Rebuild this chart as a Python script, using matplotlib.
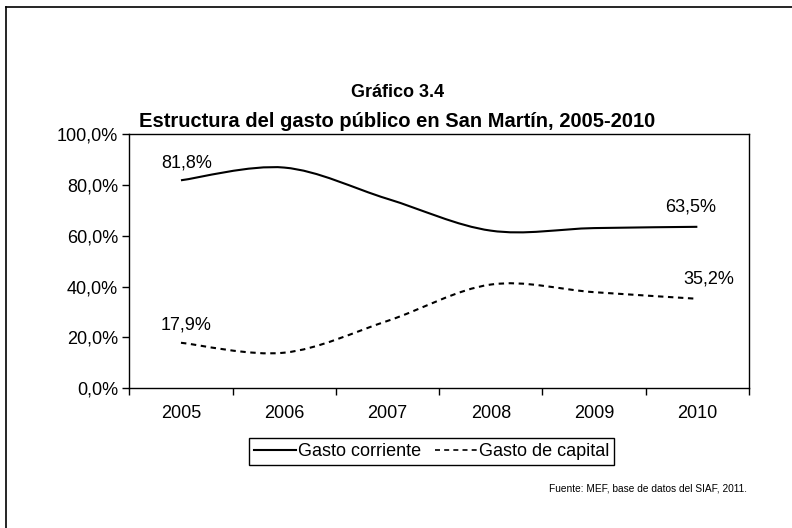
import numpy as np
import matplotlib
matplotlib.use("Agg")
from matplotlib import pyplot as plt
from matplotlib.path import Path
from matplotlib.patches import PathPatch
from matplotlib.lines import Line2D

plt.rcParams['font.family'] = ['Liberation Sans', 'DejaVu Sans']

years = ["2005", "2006", "2007", "2008", "2009", "2010"]
gasto_corriente = [81.8, 86.8, 74.5, 62.0, 63.0, 63.5]
gasto_capital = [17.9, 14.0, 26.5, 40.8, 37.8, 35.2]
labels_corriente = {0: "81,8%", 5: "63,5%"}
labels_capital = {0: "17,9%", 5: "35,2%"}


def smooth_path(xs, ys):
    # bezier segments through the data points, like Excel's smoothed line
    pts = np.column_stack([xs, ys])
    n = len(pts)
    verts = [pts[0]]
    codes = [Path.MOVETO]
    for i in range(n - 1):
        p0 = pts[max(i - 1, 0)]
        p1 = pts[i]
        p2 = pts[i + 1]
        p3 = pts[min(i + 2, n - 1)]
        c1 = p1 + (p2 - p0) / 6.0
        c2 = p2 - (p3 - p1) / 6.0
        verts += [c1, c2, p2]
        codes += [Path.CURVE4] * 3
    return Path(verts, codes)


fig = plt.figure(figsize=(7.92, 5.28), dpi=100)
ax = fig.add_axes([0.1633, 0.2646, 0.7824, 0.4816])

x = np.arange(len(years))
dash = (0, (2.6, 2.2))
ax.add_patch(PathPatch(smooth_path(x, np.array(gasto_corriente) / 100),
                       fill=False, lw=1.5, color="black"))
ax.add_patch(PathPatch(smooth_path(x, np.array(gasto_capital) / 100),
                       fill=False, lw=1.5, color="black", linestyle=dash))

ax.set_xlim(-0.5, len(years) - 0.5)
ax.set_ylim(0, 1.0)
ax.set_yticks(np.arange(0, 1.01, 0.2))
ax.set_yticklabels([("%.1f%%" % (v * 100)).replace(".", ",") for v in np.arange(0, 1.01, 0.2)])
ax.set_xticks(x)
ax.set_xticklabels(years)
ax.set_xticks(np.arange(-0.5, len(years), 1.0), minor=True)
ax.tick_params(axis="x", which="major", length=0, pad=12, labelsize=13)
ax.tick_params(axis="x", which="minor", length=5, width=1, direction="out")
ax.tick_params(axis="y", length=5, width=1, direction="out", pad=3, labelsize=13)
for s in ax.spines.values():
    s.set_linewidth(1.0)

for i, t in labels_corriente.items():
    ax.annotate(t, (x[i], gasto_corriente[i] / 100), xytext=(4 if i == 0 else -5, 12.5 if i == 0 else 14),
                textcoords="offset points", ha="center", va="center", fontsize=13)
for i, t in labels_capital.items():
    ax.annotate(t, (x[i], gasto_capital[i] / 100), xytext=(4 if i == 0 else 8, 12.8 if i == 0 else 14),
                textcoords="offset points", ha="center", va="center", fontsize=13)

handles = [Line2D([], [], color="black", lw=1.5),
           Line2D([], [], color="black", lw=1.2, linestyle=(0, (3, 2.5)))]
leg = fig.legend(handles, ["Gasto corriente", "Gasto de capital"], ncol=2,
                 loc="center", bbox_to_anchor=(0.545, 0.145), fontsize=13,
                 frameon=True, fancybox=False, framealpha=1, edgecolor="black",
                 handlelength=2.3, handletextpad=0.1, columnspacing=0.8,
                 borderpad=0.3, borderaxespad=0)
leg.get_frame().set_linewidth(1.0)

fig.text(0.502, 0.825, "Gráfico 3.4", ha="center", va="center", fontsize=13, fontweight="bold")
fig.text(0.502, 0.769, "Estructura del gasto público en San Martín, 2005-2010",
         ha="center", va="center", fontsize=14.5, fontweight="bold")
fig.text(0.943, 0.074, "Fuente: MEF, base de datos del SIAF, 2011.", ha="right",
         va="center", fontsize=7.3)

# outer frame (left and top edges)
fig.add_artist(Line2D([0.0076, 0.0076], [0, 0.987], transform=fig.transFigure, color="black", lw=1.2))
fig.add_artist(Line2D([0.0076, 1.0], [0.987, 0.987], transform=fig.transFigure, color="black", lw=1.2))

fig.savefig("out.png", dpi=100)
